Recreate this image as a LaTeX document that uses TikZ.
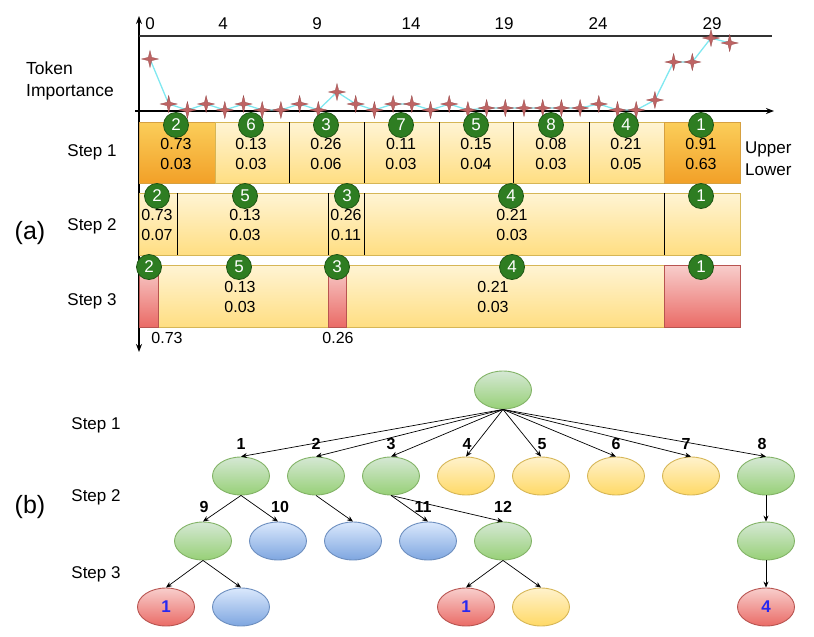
\documentclass[tikz,border=0pt]{standalone}
\usepackage{fontspec}
\setmainfont{Liberation Sans}
\usetikzlibrary{shapes.geometric,arrows.meta}
\definecolor{cgreen}{RGB}{46,125,34}
\definecolor{cgreend}{RGB}{30,85,20}
\definecolor{starfill}{RGB}{190,100,100}
\definecolor{stardraw}{RGB}{150,70,70}
\definecolor{lcyan}{RGB}{128,232,240}
\definecolor{ytop}{RGB}{255,244,212}
\definecolor{ybot}{RGB}{255,222,130}
\definecolor{yedge}{RGB}{214,182,86}
\definecolor{otop}{RGB}{251,206,90}
\definecolor{obot}{RGB}{242,160,40}
\definecolor{oedge}{RGB}{214,160,64}
\definecolor{rtop}{RGB}{248,206,204}
\definecolor{rbot}{RGB}{234,107,102}
\definecolor{redge}{RGB}{184,84,80}
\definecolor{gtop}{RGB}{213,232,212}
\definecolor{gbot}{RGB}{151,208,119}
\definecolor{gedge}{RGB}{130,179,102}
\definecolor{btop}{RGB}{218,232,252}
\definecolor{bbot}{RGB}{126,166,224}
\definecolor{bedge}{RGB}{108,142,191}
\definecolor{ntop}{RGB}{255,242,204}
\definecolor{nbot}{RGB}{255,217,102}
\definecolor{numblue}{RGB}{40,40,240}
\begin{document}
\begin{tikzpicture}[x=1pt,y=-1pt,
  lbl/.style={font=\fontsize{17}{20}\selectfont, inner sep=0},
  big/.style={font=\fontsize{25}{28}\selectfont, inner sep=0},
  val/.style={font=\fontsize{16}{20}\selectfont, align=center, inner sep=0},
  numc/.style={circle, minimum size=25pt, inner sep=0, fill=cgreen, draw=cgreend, line width=0.8pt, text=white, font=\fontsize{17}{17}\selectfont},
  tstar/.style={star, star points=4, star point ratio=3.6, minimum size=17pt, inner sep=0, fill=starfill, draw=stardraw, line width=0.3pt},
  axis/.style={line width=1.4pt, black},
  ybox/.style={top color=ytop, bottom color=ybot, draw=yedge, line width=0.8pt},
  obox/.style={top color=otop, bottom color=obot, draw=oedge, line width=0.8pt},
  rbox/.style={top color=rtop, bottom color=rbot, draw=redge, line width=0.8pt},
  divl/.style={line width=0.8pt, black},
  tn/.style={ellipse, minimum width=57pt, minimum height=38pt, inner sep=0, line width=0.9pt, font=\fontsize{17}{17}\selectfont\bfseries, text=numblue},
  gn/.style={tn, top color=gtop, bottom color=gbot, draw=gedge},
  yn/.style={tn, top color=ntop, bottom color=nbot, draw=yedge},
  bn/.style={tn, top color=btop, bottom color=bbot, draw=bedge},
  rn/.style={tn, top color=rtop, bottom color=rbot, draw=redge},
  edge/.style={line width=0.7pt, -{Stealth[length=6pt,width=5pt]}},
  elbl/.style={font=\fontsize{16}{16}\selectfont\bfseries, inner sep=0}
]
\useasboundingbox (0,0) rectangle (814,637);

% ---------- (a) axes ----------
\coordinate (yb) at (139,352);
\coordinate (yt) at (139,16);
\coordinate (xl) at (135,111);
\coordinate (xr) at (774,111);
\coordinate (tl) at (139,36);
\coordinate (tr) at (772,36);
\draw[axis, {Stealth[length=8pt,width=6pt]}-{Stealth[length=8pt,width=6pt]}] (yb) -- (yt);
\draw[axis, -{Stealth[length=8pt,width=6pt]}] (xl) -- (xr);
\draw[line width=1.4pt, black!80] (tl) -- (tr);

\node[lbl] (t0) at (150,24) {0};
\node[lbl] (t4) at (223,24) {4};
\node[lbl] (t9) at (317,24) {9};
\node[lbl] (t14) at (411,24) {14};
\node[lbl] (t19) at (504,24) {19};
\node[lbl] (t24) at (598,24) {24};
\node[lbl] (t29) at (712,24) {29};

\node[lbl, align=left, font=\fontsize{17.5}{22}\selectfont] (ti) at (70,81) {Token\\Importance};

% importance curve
\foreach \i/\yv in {0/59,1/104,2/110,3/104,4/110,5/104,6/110,7/110,8/104,9/110,10/92,11/104,12/110,13/104,14/104,15/110,16/104,17/110,18/108,19/108,20/108,21/108,22/108,23/108,24/104,25/110,26/110,27/100,28/62,29/62,30/38,31/43}{
  \coordinate (p\i) at ({150+18.7*\i},\yv);
}
\draw[lcyan, line width=1.3pt] (p0) \foreach \i in {1,...,31}{ -- (p\i)};
\foreach \i in {0,...,31}{ \node[tstar] (s\i) at (p\i) {}; }

% ---------- Step 1 ----------
\shadedraw[obox] (139,122) rectangle (215,183);
\shadedraw[ybox] (215,122) rectangle (289,183);
\shadedraw[ybox] (289,122) rectangle (364,183);
\shadedraw[ybox] (364,122) rectangle (439,183);
\shadedraw[ybox] (439,122) rectangle (513,183);
\shadedraw[ybox] (513,122) rectangle (589,183);
\shadedraw[ybox] (589,122) rectangle (664,183);
\shadedraw[obox] (664,122) rectangle (740,183);
\foreach \xv in {289,364,439,513,589}{ \draw[divl] (\xv,122) -- (\xv,183); }

\foreach \xv/\n/\u/\l in {176/2/0.73/0.03, 251/6/0.13/0.03, 326/3/0.26/0.06, 401/7/0.11/0.03, 476/5/0.15/0.04, 551/8/0.08/0.03, 626/4/0.21/0.05, 701/1/0.91/0.63}{
  \node[val] (v1-\n) at (\xv,154) {\u\\\l};
  \node[numc] (c1-\n) at (\xv,125) {\n};
}
\node[lbl, anchor=base west] (up) at (745,153) {Upper};
\node[lbl, anchor=base west] (lo) at (745,175) {Lower};

% ---------- Step 2 ----------
\shadedraw[ybox] (139,193) rectangle (740,255);
\foreach \xv in {177,328,364,664}{ \draw[divl] (\xv,193) -- (\xv,255); }
\node[val] (v2-2) at (157,225) {0.73\\0.07};
\node[val] (v2-5) at (245,225) {0.13\\0.03};
\node[val] (v2-3) at (346,225) {0.26\\0.11};
\node[val] (v2-4) at (512,225) {0.21\\0.03};
\node[numc] (c2-2) at (157,196) {2};
\node[numc] (c2-5) at (245,196) {5};
\node[numc] (c2-3) at (347,196) {3};
\node[numc] (c2-4) at (511,196) {4};
\node[numc] (c2-1) at (701,196) {1};

% ---------- Step 3 ----------
\shadedraw[ybox] (139,265) rectangle (664,327);
\shadedraw[rbox] (139,265) rectangle (158,327);
\shadedraw[rbox] (328,265) rectangle (346,327);
\shadedraw[rbox] (664,265) rectangle (740,327);
\node[val] (v3-5) at (240,297) {0.13\\0.03};
\node[val] (v3-4) at (493,297) {0.21\\0.03};
\node[numc] (c3-2) at (149,267) {2};
\node[numc] (c3-5) at (239,267) {5};
\node[numc] (c3-3) at (337,267) {3};
\node[numc] (c3-4) at (512,267) {4};
\node[numc] (c3-1) at (701,267) {1};
\node[val] (b073) at (167,338) {0.73};
\node[val] (b026) at (338,338) {0.26};

% labels (a)
\node[lbl] (sa1) at (92,152) {Step 1};
\node[lbl] (sa2) at (92,226) {Step 2};
\node[lbl] (sa3) at (92,301) {Step 3};
\node[big] (la) at (30,233) {(a)};

% ---------- (b) tree ----------
\node[lbl] (sb1) at (96,425) {Step 1};
\node[lbl] (sb2) at (96,497) {Step 2};
\node[lbl] (sb3) at (96,574) {Step 3};
\node[big] (lb) at (30,507) {(b)};

\node[gn] (root) at (503,390) {};
\node[gn] (n1) at (241,476) {};
\node[gn] (n2) at (316,476) {};
\node[gn] (n3) at (391,476) {};
\node[yn] (n4) at (466,476) {};
\node[yn] (n5) at (541,476) {};
\node[yn] (n6) at (616,476) {};
\node[yn] (n7) at (691,476) {};
\node[gn] (n8) at (766,476) {};

\node[gn] (m9) at (203,541) {};
\node[bn] (m10) at (278,541) {};
\node[bn] (mb) at (353,541) {};
\node[bn] (m11) at (428,541) {};
\node[gn] (m12) at (503,541) {};
\node[gn] (m8) at (766,541) {};

\node[rn] (k1) at (166,607) {1};
\node[bn] (k2) at (241,607) {};
\node[rn] (k3) at (466,607) {1};
\node[yn] (k4) at (541,607) {};
\node[rn] (k5) at (766,607) {4};

\foreach \c in {n1,n2,n3,n4,n5,n6,n7,n8}{ \draw[edge] (root.south) -- (\c.north); }
\draw[edge] (n1.south) -- (m9.north);
\draw[edge] (n1.south) -- (m10.north);
\draw[edge] (n2.south) -- (mb.north);
\draw[edge] (n3.south) -- (m11.north);
\draw[edge] (n3.south) -- (m12.north);
\draw[edge] (n8.south) -- (m8.north);
\draw[edge] (m9.south) -- (k1.north);
\draw[edge] (m9.south) -- (k2.north);
\draw[edge] (m12.south) -- (k3.north);
\draw[edge] (m12.south) -- (k4.north);
\draw[edge] (m8.south) -- (k5.north);

\foreach \xv/\t in {241/1,316/2,391/3,467/4,542/5,616/6,686/7,762/8}{
  \node[elbl] (e\t) at (\xv,444) {\t};
}
\node[elbl] (e9) at (204,507) {9};
\node[elbl] (e10) at (280,507) {10};
\node[elbl] (e11) at (423,507) {11};
\node[elbl] (e12) at (503,507) {12};
\end{tikzpicture}
\end{document}
